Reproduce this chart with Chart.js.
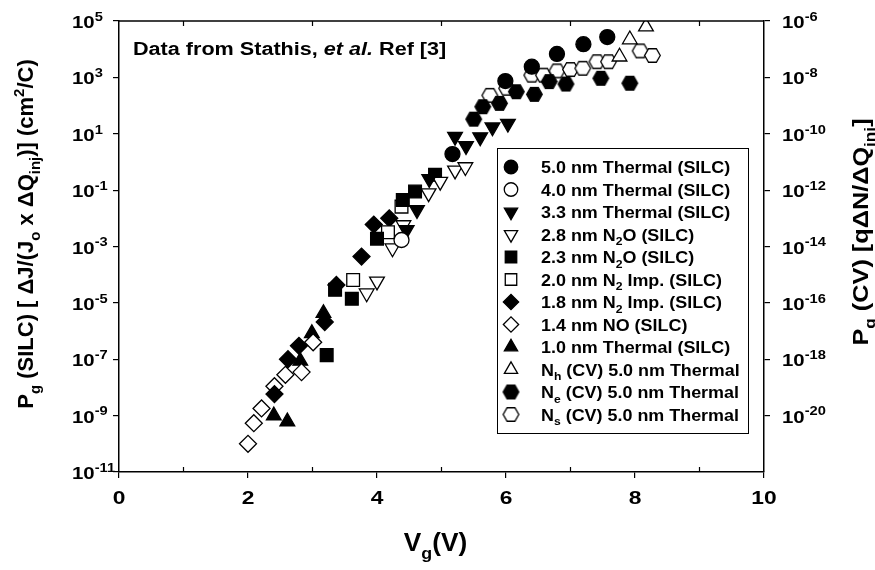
<!DOCTYPE html>
<html>
<head>
<meta charset="utf-8">
<script src="https://cdn.jsdelivr.net/npm/chart.js@4.4.1/dist/chart.umd.min.js"></script>
<style>
  html, body { margin: 0; padding: 0; background: #fff; }
  #wrap { width: 875px; height: 570px; }
</style>
</head>
<body>
<div id="wrap"><canvas id="chartPg"></canvas></div>
<script>
// ---- data (Vg in volts, Pg in cm2/C) ----
const vgT50 = [5.17, 5.99, 6.40, 6.79, 7.20, 7.57];
const pgT50 = [1.9, 7.4e2, 2.4e3, 6.8e3, 1.5e4, 2.7e4];

const vgT40 = [4.38];
const pgT40 = [1.7e-3];

const vgT33 = [4.46, 4.62, 4.81, 5.21, 5.38, 5.60, 5.79, 6.03];
const pgT33 = [3.9e-3, 2.0e-2, 2.5e-1, 7.9, 3.7, 7.6, 1.7e1, 2.3e1];

const vgN2O28 = [3.84, 4.00, 4.24, 4.41, 4.80, 4.98, 5.21, 5.37];
const pgN2O28 = [2.2e-5, 5.8e-5, 8.7e-4, 5.8e-3, 7.8e-2, 2.0e-1, 5.0e-1, 6.6e-1];

const vgN2O23 = [3.22, 3.35, 3.61, 4.00, 4.40, 4.59, 4.90];
const pgN2O23 = [1.4e-7, 2.9e-5, 1.4e-5, 1.9e-3, 4.5e-2, 8.9e-2, 3.5e-1];

const vgImp20 = [3.63, 4.17, 4.38];
const pgImp20 = [6.5e-5, 3.2e-3, 2.6e-2];

const vgImp18 = [2.41, 2.62, 2.79, 3.19, 3.37, 3.76, 3.95, 4.19];
const pgImp18 = [5.8e-9, 1.0e-7, 3.0e-7, 2.1e-6, 4.3e-5, 4.4e-4, 6.0e-3, 1.0e-2];

const vgNO14 = [2.00, 2.09, 2.21, 2.41, 2.58, 2.83, 3.01];
const pgNO14 = [1.0e-10, 5.4e-10, 1.8e-9, 1.1e-8, 2.8e-8, 3.5e-8, 4.0e-7];

const vgT10 = [2.40, 2.61, 2.81, 2.99, 3.17];
const pgT10 = [1.0e-9, 6.2e-10, 8.7e-8, 8.3e-7, 4.3e-6];

const vgNh = [7.76, 7.92, 8.17];
const pgNh = [5.4e3, 2.2e4, 6.3e4];

const vgNe = [5.50, 5.64, 5.90, 6.16, 6.44, 6.67, 6.93, 7.47, 7.92];
const pgNe = [33, 91, 120, 310, 250, 710, 580, 930, 620];

const vgNs = [5.75, 6.01, 6.40, 6.58, 6.79, 7.00, 7.19, 7.41, 7.59, 8.08, 8.27];
const pgNs = [230, 410, 1200, 1200, 1700, 1900, 2100, 3600, 3600, 8700, 6000];

// tick labels
const xTicks = [0, 2, 4, 6, 8, 10];
const xMinor = [1, 3, 5, 7, 9];
const leftExps = [-11, -9, -7, -5, -3, -1, 1, 3, 5];
const rightExps = [-20, -18, -16, -14, -12, -10, -8, -6];

const FONT = '"Liberation Sans", Arial, Helvetica, sans-serif';

// hexagon marker (not built into Chart.js)
function hexMarker(filled) {
  const c = document.createElement('canvas');
  c.width = 19; c.height = 19;
  const g = c.getContext('2d');
  g.beginPath();
  for (let k = 0; k < 6; k++) {
    const ang = Math.PI / 3 * k;
    const px = 9.5 + 7.8 * Math.cos(ang), py = 9.5 + 7.8 * Math.sin(ang);
    k ? g.lineTo(px, py) : g.moveTo(px, py);
  }
  g.closePath();
  g.fillStyle = filled ? '#000' : '#fff';
  g.fill();
  g.lineWidth = 1.3;
  g.strokeStyle = '#000';
  g.stroke();
  return c;
}

// label text with _{sub} ^{sup} *{italic}
function rt(str) {
  const segs = [];
  const re = /([_^*])\{([^}]*)\}/g;
  let last = 0, m;
  while ((m = re.exec(str))) {
    if (m.index > last) segs.push({ t: str.slice(last, m.index) });
    segs.push({ t: m[2], m: m[1] === '_' ? 'sub' : m[1] === '^' ? 'sup' : 'it' });
    last = re.lastIndex;
  }
  if (last < str.length) segs.push({ t: str.slice(last) });
  return segs;
}

const series = [
  { label: '5.0 nm Thermal (SILC)', v: vgT50, p: pgT50, style: 'circle', r: 7.5, fill: true },
  { label: '4.0 nm Thermal (SILC)', v: vgT40, p: pgT40, style: 'circle', r: 7.5, fill: false },
  { label: '3.3 nm Thermal (SILC)', v: vgT33, p: pgT33, style: 'triangle', rot: 180, r: 8.5, fill: true },
  { label: '2.8 nm N_{2}O (SILC)', v: vgN2O28, p: pgN2O28, style: 'triangle', rot: 180, r: 8.5, fill: false },
  { label: '2.3 nm N_{2}O (SILC)', v: vgN2O23, p: pgN2O23, style: 'rect', r: 9, fill: true },
  { label: '2.0 nm N_{2} Imp. (SILC)', v: vgImp20, p: pgImp20, style: 'rect', r: 9, fill: false },
  { label: '1.8 nm N_{2} Imp. (SILC)', v: vgImp18, p: pgImp18, style: 'rectRot', r: 8.5, fill: true },
  { label: '1.4 nm NO (SILC)', v: vgNO14, p: pgNO14, style: 'rectRot', r: 8.5, fill: false },
  { label: '1.0 nm Thermal (SILC)', v: vgT10, p: pgT10, style: 'triangle', r: 8.5, fill: true },
  { label: 'N_{h} (CV) 5.0 nm Thermal', v: vgNh, p: pgNh, style: 'triangle', r: 8.5, fill: false },
  { label: 'N_{e} (CV) 5.0 nm Thermal', v: vgNe, p: pgNe, style: hexMarker(true), r: 8, fill: true },
  { label: 'N_{s} (CV) 5.0 nm Thermal', v: vgNs, p: pgNs, style: hexMarker(false), r: 8, fill: false }
];

function font(size, italic) {
  return (italic ? 'italic ' : '') + 'bold ' + size + 'px ' + FONT;
}
// draws mixed text; sx stretches glyphs horizontally (the scan's type is wide)
function drawRich(ctx, segs, x, y, size, align, sx, subScale) {
  sx = sx || 1;
  const ss = subScale || 0.68;
  let w = 0;
  segs.forEach(s => {
    ctx.font = font(s.m === 'sub' || s.m === 'sup' ? size * ss : size, s.m === 'it');
    w += ctx.measureText(s.t).width * sx;
  });
  let cx = align === 'center' ? x - w / 2 : align === 'right' ? x - w : x;
  ctx.textAlign = 'left';
  ctx.textBaseline = 'alphabetic';
  segs.forEach(s => {
    const small = s.m === 'sub' || s.m === 'sup';
    ctx.font = font(small ? size * ss : size, s.m === 'it');
    const dy = s.m === 'sub' ? size * 0.3 : s.m === 'sup' ? -size * 0.42 : 0;
    ctx.save();
    ctx.translate(cx, y + dy);
    ctx.scale(sx, 1);
    ctx.fillText(s.t, 0, 0);
    ctx.restore();
    cx += ctx.measureText(s.t).width * sx;
  });
}

const decor = {
  id: 'decor',
  afterDraw(chart) {
    const { ctx, chartArea: a, scales } = chart;
    const sx = scales.x, sy = scales.y, sy2 = scales.y2;
    ctx.save();
    ctx.fillStyle = '#000';
    ctx.strokeStyle = '#000';

    // top frame line + inward minor ticks
    ctx.lineWidth = 1.5;
    ctx.beginPath();
    ctx.moveTo(a.left, a.top);
    ctx.lineTo(a.right, a.top);
    ctx.stroke();
    ctx.lineWidth = 1.2;
    xMinor.forEach(v => {
      const px = sx.getPixelForValue(v);
      ctx.beginPath();
      ctx.moveTo(px, a.bottom); ctx.lineTo(px, a.bottom - 5);
      ctx.moveTo(px, a.top); ctx.lineTo(px, a.top + 5);
      ctx.stroke();
    });

    // tick labels
    xTicks.forEach(v => drawRich(ctx, [{ t: String(v) }], sx.getPixelForValue(v), 504, 19, 'center', 1.2));
    leftExps.forEach(e => drawRich(ctx, [{ t: '10' }, { t: String(e), m: 'sup' }],
      72, sy.getPixelForValue(Math.pow(10, e)) + 7, 17, 'left', 1.2, 0.72));
    rightExps.forEach(e => drawRich(ctx, [{ t: '10' }, { t: String(e), m: 'sup' }],
      782, sy2.getPixelForValue(Math.pow(10, e)) + 7, 17, 'left', 1.2, 0.72));

    // axis titles
    drawRich(ctx, rt('V_{g}(V)'), (a.left + a.right) / 2 - 6, 551, 25, 'center', 1.05);
    ctx.save();
    ctx.translate(33, 234);
    ctx.rotate(-Math.PI / 2);
    drawRich(ctx, rt('P_{g} (SILC) [ \u0394J/(J_{o} x \u0394Q_{inj})] (cm^{2}/C)'), 0, 0, 22, 'center', 1);
    ctx.restore();
    ctx.save();
    ctx.translate(868, 232);
    ctx.rotate(-Math.PI / 2);
    drawRich(ctx, rt('P_{g} (CV) [q\u0394N/\u0394Q_{inj}]'), 0, 0, 22, 'center', 1.15);
    ctx.restore();

    // inset note
    drawRich(ctx, rt('Data from Stathis, *{et al.} Ref [3]'), 133, 55, 18, 'left', 1.2);

    // legend
    const L = { left: 497, top: 148, right: 748, bottom: 433, row0: 167, dy: 22.5, mx: 511, tx: 541 };
    ctx.fillStyle = '#fff';
    ctx.fillRect(L.left, L.top, L.right - L.left, L.bottom - L.top);
    ctx.lineWidth = 1;
    ctx.strokeStyle = '#000';
    ctx.strokeRect(L.left + 0.5, L.top + 0.5, L.right - L.left, L.bottom - L.top);
    chart.data.datasets.forEach((ds, i) => {
      const yy = L.row0 + i * L.dy;
      ctx.fillStyle = ds.backgroundColor;
      ctx.strokeStyle = '#000';
      ctx.lineWidth = 1.3;
      Chart.helpers.drawPoint(ctx, {
        pointStyle: ds.pointStyle, rotation: ds.rotation,
        radius: ds.pointRadius * 0.9, borderWidth: 1.3
      }, L.mx, yy);
      ctx.fillStyle = '#000';
      drawRich(ctx, rt(series[i].label), L.tx, yy + 6, 16, 'left', 1.12);
    });
    ctx.restore();
  }
};

const axisGrid = { drawOnChartArea: false, drawTicks: true, tickLength: 6, color: '#000', lineWidth: 1.2 };
const axisBorder = { display: true, color: '#000', width: 1.5 };

new Chart(document.getElementById('chartPg'), {
  type: 'scatter',
  data: {
    datasets: series.map(s => ({
      label: s.label,
      data: s.v.map((v, i) => ({ x: v, y: s.p[i] })),
      yAxisID: 'y',
      showLine: false,
      pointStyle: s.style,
      rotation: s.rot || 0,
      pointRadius: s.r,
      pointHoverRadius: s.r,
      backgroundColor: s.fill ? '#000' : '#fff',
      borderColor: '#000',
      borderWidth: 1.3
    }))
  },
  options: {
    responsive: true,
    maintainAspectRatio: false,
    animation: false,
    layout: { padding: { top: 21, left: 0, right: 0, bottom: 0 } },
    plugins: { legend: { display: false }, tooltip: { enabled: false } },
    scales: {
      x: {
        type: 'linear', position: 'bottom', min: 0, max: 10,
        afterBuildTicks: s => { s.ticks = xTicks.map(v => ({ value: v })); },
        ticks: { display: false },
        grid: axisGrid, border: axisBorder,
        afterFit: s => { s.height = 98; }
      },
      y: {
        type: 'logarithmic', position: 'left', min: 1e-11, max: 1e5,
        afterBuildTicks: s => { s.ticks = leftExps.map(e => ({ value: Math.pow(10, e) })); },
        ticks: { display: false },
        grid: axisGrid, border: axisBorder,
        afterFit: s => { s.width = 119; }
      },
      y2: {
        type: 'logarithmic', position: 'right', min: 1e-22, max: 1e-6,
        afterBuildTicks: s => { s.ticks = rightExps.map(e => ({ value: Math.pow(10, e) })); },
        ticks: { display: false },
        grid: axisGrid, border: axisBorder,
        afterFit: s => { s.width = 111; }
      }
    }
  },
  plugins: [decor]
});
</script>
</body>
</html>
